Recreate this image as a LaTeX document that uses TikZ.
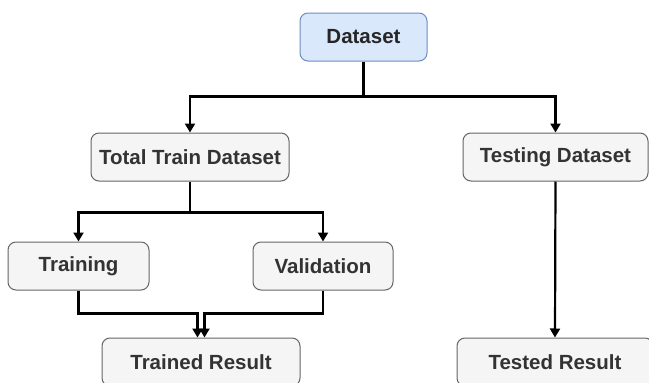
\documentclass[tikz,border=0pt]{standalone}
\usepackage{fontspec}
\setmainfont{Liberation Sans}
\usetikzlibrary{arrows.meta}
\definecolor{bluefill}{HTML}{DAE8FC}
\definecolor{blueline}{HTML}{6C8EBF}
\definecolor{grayfill}{HTML}{F5F5F5}
\definecolor{grayline}{HTML}{666666}
\definecolor{graytext}{HTML}{333333}
\begin{document}
\begin{tikzpicture}[x=1pt,y=-1pt,
  box/.style={draw=grayline, fill=grayfill, rounded corners=8pt, line width=1pt,
    minimum height=48pt, inner sep=0pt, text=graytext,
    font=\fontsize{20.5}{24}\selectfont\bfseries},
  bluebox/.style={box, draw=blueline, fill=bluefill, text=black!85},
  conn/.style={line width=2.2pt, -{Triangle[length=9pt,width=10pt]}}]
\useasboundingbox (0,0) rectangle (649,383);
\clip (0,0) rectangle (649,383);
\fill[white] (0,0) rectangle (649,383);
\node[bluebox, minimum width=127pt] (ds) at (363.5,37) {Dataset};
\node[box, minimum width=198pt] (tt) at (190,157) {Total Train Dataset};
\node[box, minimum width=185pt] (te) at (555.5,157) {Testing Dataset};
\node[box, minimum width=141pt] (tr) at (78.5,266) {Training};
\node[box, minimum width=140pt] (va) at (323,266) {Validation};
\node[box, minimum width=198pt] (rs) at (201,362) {Trained Result};
\node[box, minimum width=196pt] (ts) at (555,362) {Tested Result};
\draw[conn] (ds.south) -- ++(0,35) -| (tt.north);
\draw[conn] (ds.south) -- ++(0,35) -| (te.north);
\draw[conn] (tt.south) -- ++(0,31) -| (tr.north);
\draw[conn] (tt.south) -- ++(0,31) -| (va.north);
\draw[conn] (tr.south) -- ++(0,23) -| ([xshift=-3.5pt]rs.north);
\draw[conn] (va.south) -- ++(0,23) -| ([xshift=3.5pt]rs.north);
\draw[conn] (te.south) -- (ts.north);
\end{tikzpicture}
\end{document}
